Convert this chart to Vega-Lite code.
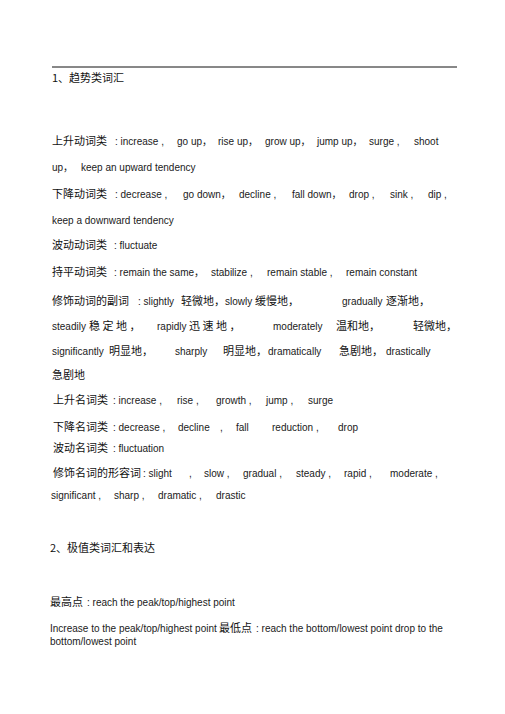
{
  "$schema": "https://vega.github.io/schema/vega-lite/v6.json",
  "description": "Page of trend vocabulary, rebuilt as text marks",
  "width": 505,
  "height": 714,
  "autosize": {"type": "fit", "contains": "padding"},
  "padding": 0,
  "background": "white",
  "config": {"view": {"stroke": null}},
  "data": {
    "values": [
      {"x": 52, "y": 79, "s": "zh", "t": "1、趋势类词汇"},

      {"x": 52, "y": 142, "s": "zh", "t": "上升动词类"},
      {"x": 115, "y": 142, "s": "en", "t": ": increase ,"},
      {"x": 177, "y": 142, "s": "en", "t": "go up，"},
      {"x": 218, "y": 142, "s": "en", "t": "rise up，"},
      {"x": 265, "y": 142, "s": "en", "t": "grow up，"},
      {"x": 317, "y": 142, "s": "en", "t": "jump up，"},
      {"x": 369, "y": 142, "s": "en", "t": "surge ,"},
      {"x": 414, "y": 142, "s": "en", "t": "shoot"},
      {"x": 52, "y": 168, "s": "en", "t": "up，"},
      {"x": 81, "y": 168, "s": "en", "t": "keep an upward tendency"},

      {"x": 52, "y": 195, "s": "zh", "t": "下降动词类"},
      {"x": 115, "y": 195, "s": "en", "t": ": decrease ,"},
      {"x": 183, "y": 195, "s": "en", "t": "go down，"},
      {"x": 239, "y": 195, "s": "en", "t": "decline ,"},
      {"x": 292, "y": 195, "s": "en", "t": "fall down，"},
      {"x": 349, "y": 195, "s": "en", "t": "drop ,"},
      {"x": 390, "y": 195, "s": "en", "t": "sink ,"},
      {"x": 428, "y": 195, "s": "en", "t": "dip ,"},
      {"x": 52, "y": 221, "s": "en", "t": "keep a downward tendency"},

      {"x": 52, "y": 246, "s": "zh", "t": "波动动词类"},
      {"x": 114, "y": 246, "s": "en", "t": ": fluctuate"},

      {"x": 52, "y": 273, "s": "zh", "t": "持平动词类"},
      {"x": 114, "y": 273, "s": "en", "t": ": remain the same，"},
      {"x": 211, "y": 273, "s": "en", "t": "stabilize ,"},
      {"x": 267, "y": 273, "s": "en", "t": "remain stable ,"},
      {"x": 346, "y": 273, "s": "en", "t": "remain constant"},

      {"x": 52, "y": 302, "s": "zh", "t": "修饰动词的副词"},
      {"x": 138, "y": 302, "s": "en", "t": ": slightly"},
      {"x": 181, "y": 302, "s": "zh", "t": "轻微地，"},
      {"x": 225, "y": 302, "s": "en", "t": "slowly"},
      {"x": 255, "y": 302, "s": "zh", "t": "缓慢地，"},
      {"x": 342, "y": 302, "s": "en", "t": "gradually"},
      {"x": 386, "y": 302, "s": "zh", "t": "逐渐地，"},

      {"x": 52, "y": 327, "s": "en", "t": "steadily"},
      {"x": 89, "y": 327, "s": "zh", "t": "稳  定  地  ，"},
      {"x": 157, "y": 327, "s": "en", "t": "rapidly"},
      {"x": 189, "y": 327, "s": "zh", "t": "迅  速  地  ，"},
      {"x": 273, "y": 327, "s": "en", "t": "moderately"},
      {"x": 336, "y": 327, "s": "zh", "t": "温和地，"},
      {"x": 413, "y": 327, "s": "zh", "t": "轻微地，"},

      {"x": 52, "y": 352, "s": "en", "t": "significantly"},
      {"x": 109, "y": 352, "s": "zh", "t": "明显地，"},
      {"x": 175, "y": 352, "s": "en", "t": "sharply"},
      {"x": 223, "y": 352, "s": "zh", "t": "明显地，"},
      {"x": 268, "y": 352, "s": "en", "t": "dramatically"},
      {"x": 339, "y": 352, "s": "zh", "t": "急剧地，"},
      {"x": 386, "y": 352, "s": "en", "t": "drastically"},
      {"x": 52, "y": 376, "s": "zh", "t": "急剧地"},

      {"x": 53, "y": 401, "s": "zh", "t": "上升名词类"},
      {"x": 113, "y": 401, "s": "en", "t": ": increase ,"},
      {"x": 177, "y": 401, "s": "en", "t": "rise ,"},
      {"x": 216, "y": 401, "s": "en", "t": "growth ,"},
      {"x": 266, "y": 401, "s": "en", "t": "jump ,"},
      {"x": 308, "y": 401, "s": "en", "t": "surge"},

      {"x": 53, "y": 428, "s": "zh", "t": "下降名词类"},
      {"x": 113, "y": 428, "s": "en", "t": ": decrease ,"},
      {"x": 178, "y": 428, "s": "en", "t": "decline"},
      {"x": 220, "y": 428, "s": "en", "t": ","},
      {"x": 236, "y": 428, "s": "en", "t": "fall"},
      {"x": 272, "y": 428, "s": "en", "t": "reduction ,"},
      {"x": 338, "y": 428, "s": "en", "t": "drop"},

      {"x": 53, "y": 449, "s": "zh", "t": "波动名词类"},
      {"x": 113, "y": 449, "s": "en", "t": ": fluctuation"},

      {"x": 53, "y": 474, "s": "zh", "t": "修饰名词的形容词"},
      {"x": 143, "y": 474, "s": "en", "t": ": slight"},
      {"x": 189, "y": 474, "s": "en", "t": ","},
      {"x": 204, "y": 474, "s": "en", "t": "slow ,"},
      {"x": 243, "y": 474, "s": "en", "t": "gradual ,"},
      {"x": 296, "y": 474, "s": "en", "t": "steady ,"},
      {"x": 344, "y": 474, "s": "en", "t": "rapid ,"},
      {"x": 390, "y": 474, "s": "en", "t": "moderate ,"},
      {"x": 51, "y": 496, "s": "en", "t": "significant ,"},
      {"x": 114, "y": 496, "s": "en", "t": "sharp ,"},
      {"x": 158, "y": 496, "s": "en", "t": "dramatic ,"},
      {"x": 216, "y": 496, "s": "en", "t": "drastic"},

      {"x": 50, "y": 549, "s": "zh", "t": "2、极值类词汇和表达"},

      {"x": 50, "y": 603, "s": "zh", "t": "最高点"},
      {"x": 87, "y": 603, "s": "en", "t": ": reach the peak/top/highest point"},
      {"x": 50, "y": 629, "s": "en", "t": "Increase to the peak/top/highest point"},
      {"x": 219, "y": 629, "s": "zh", "t": "最低点"},
      {"x": 256, "y": 629, "s": "en", "t": ": reach the bottom/lowest point drop to the"},
      {"x": 50, "y": 642, "s": "en", "t": "bottom/lowest point"}
    ]
  },
  "layer": [
    {
      "data": {"values": [{}]},
      "mark": {"type": "rule", "color": "#111111", "strokeWidth": 1},
      "encoding": {
        "x": {"datum": 52, "type": "quantitative", "scale": {"domain": [0, 505]}, "axis": null},
        "x2": {"datum": 457},
        "y": {"datum": 67, "type": "quantitative", "scale": {"domain": [0, 714], "reverse": true}, "axis": null}
      }
    },
    {
      "transform": [{"filter": "datum.s === 'en'"}],
      "mark": {"type": "text", "align": "left", "baseline": "middle", "font": "Liberation Sans, Noto Sans CJK SC", "fontSize": 10, "color": "#1a1a1a"},
      "encoding": {
        "x": {"field": "x", "type": "quantitative", "scale": {"domain": [0, 505]}, "axis": null},
        "y": {"field": "y", "type": "quantitative", "scale": {"domain": [0, 714], "reverse": true}, "axis": null},
        "text": {"field": "t"}
      }
    },
    {
      "transform": [{"filter": "datum.s === 'zh'"}],
      "mark": {"type": "text", "align": "left", "baseline": "middle", "font": "Noto Sans CJK SC", "fontSize": 11, "color": "#111111"},
      "encoding": {
        "x": {"field": "x", "type": "quantitative", "scale": {"domain": [0, 505]}, "axis": null},
        "y": {"field": "y", "type": "quantitative", "scale": {"domain": [0, 714], "reverse": true}, "axis": null},
        "text": {"field": "t"}
      }
    }
  ]
}
